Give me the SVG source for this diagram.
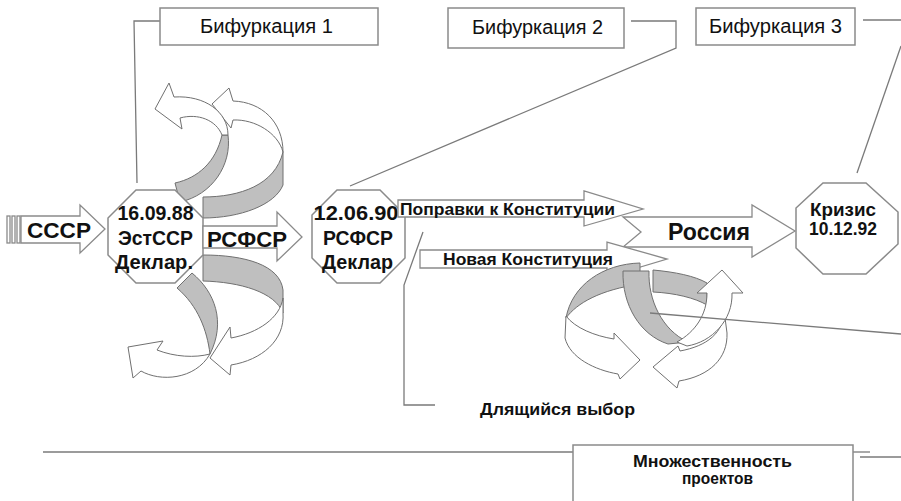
<svg xmlns="http://www.w3.org/2000/svg" width="901" height="501" viewBox="0 0 901 501">
<style>
.ln{fill:none;stroke:#7a7a7a;stroke-width:1.3}
.box{fill:#fff;stroke:#8a8a8a;stroke-width:1.5}
.oct{fill:#fff;stroke:#8a8a8a;stroke-width:1.5}
.arw{fill:#fff;stroke:#8a8a8a;stroke-width:1.3;stroke-linejoin:miter}
.gr{fill:#bfbfbf;stroke:#707070;stroke-width:1}
.wh{fill:#fff;stroke:#707070;stroke-width:1}
.t{font-family:"Liberation Sans",Arial,sans-serif;fill:#111}
.b{font-weight:bold}
</style>
<rect width="901" height="501" fill="#fff"/>

<g id="connectors">
<polyline class="ln" points="160,21 134,21 137,183"/>
<polyline class="ln" points="631,21 676,21 676,48 350,186"/>
<line class="ln" x1="863" y1="20" x2="901" y2="20"/>
<line class="ln" x1="901" y1="46" x2="857" y2="173"/>
<polyline class="ln" points="423,232 404,285 404,405 435,405"/>
<line class="ln" x1="43" y1="452" x2="573" y2="452"/>
<line class="ln" x1="853" y1="452" x2="870" y2="452"/>
<line class="ln" x1="860" y1="457" x2="901" y2="457"/>
</g>

<g id="bif1">
<rect class="box" x="160" y="8" width="218" height="37"/>
<text class="t" x="266.5" y="33" font-size="20" text-anchor="middle" textLength="133" lengthAdjust="spacingAndGlyphs">Бифуркация 1</text>
</g>
<g id="bif2">
<rect class="box" x="448" y="8" width="176" height="40"/>
<text class="t" x="537.5" y="34" font-size="20" text-anchor="middle" textLength="131" lengthAdjust="spacingAndGlyphs">Бифуркация 2</text>
</g>
<g id="bif3">
<rect class="box" x="696" y="8" width="159" height="37"/>
<text class="t" x="775.5" y="33" font-size="20" text-anchor="middle" textLength="133" lengthAdjust="spacingAndGlyphs">Бифуркация 3</text>
</g>

<g id="top-loop">
<path class="gr" d="M203,197 C240,197 275,185 283,152 L283,185 C275,205 240,218 203,218 Z"/>
<path class="wh" d="M283,152 C283,122 262,102 233,101 L229,88 L212,104 L231,128 L233,120 C255,119 278,133 283,152 Z"/>
<path class="gr" d="M175,183 C198,178 216,162 222,135 L228,135 C232,165 212,195 180,202 Z"/>
<path class="wh" d="M228,135 C228,112 205,95 174,97 L169,83 L155,109 L182,129 L180,118 C198,113 216,120 222,135 Z"/>
</g>

<g id="bottom-loop">
<path class="gr" d="M203,255 C245,255 280,265 283,290 L283,313 C275,292 240,282 203,281 Z"/>
<path class="wh" d="M283,298 C280,318 258,333 231,338 L230,327 L210,358 L230,375 L231,365 C262,360 285,340 283,313 Z"/>
<path class="gr" d="M177,288 L192,273 C215,292 226,322 210,354 C207,330 198,306 177,288 Z"/>
<path class="wh" d="M210,354 C195,358 175,357 157,350 L163,341 L128,347 L133,378 L141,371 C160,382 195,380 210,354 Z"/>
</g>

<g id="sssr">
<rect class="arw" x="7" y="216" width="3" height="27"/>
<rect class="arw" x="12" y="216" width="3" height="27"/>
<rect class="arw" x="17" y="216" width="3" height="27"/>
<path class="arw" d="M21,216 H80 V205 L105,229 L80,253 V243 H21 Z"/>
<text class="t b" x="27" y="238" font-size="22" textLength="64" lengthAdjust="spacingAndGlyphs">СССР</text>
</g>

<g id="oct1">
<polygon class="oct" points="136,190 175,190 203,218 203,255 175,283 136,283 108,255 108,218"/>
<text class="t b" x="155.5" y="220" font-size="20" text-anchor="middle" textLength="76" lengthAdjust="spacingAndGlyphs">16.09.88</text>
<text class="t b" x="155.5" y="245" font-size="20" text-anchor="middle" textLength="75" lengthAdjust="spacingAndGlyphs">ЭстССР</text>
<text class="t b" x="154" y="269" font-size="20" text-anchor="middle" textLength="78" lengthAdjust="spacingAndGlyphs">Деклар.</text>
</g>

<g id="rsfsr">
<path class="arw" d="M203,226 H277 V212 L302,237 L277,261 V248 H203 Z"/>
<text class="t b" x="207" y="247" font-size="22" textLength="80" lengthAdjust="spacingAndGlyphs">РСФСР</text>
</g>

<g id="oct2">
<polygon class="oct" points="337,190 380,190 405,215 405,258 380,283 337,283 312,258 312,215"/>
<text class="t b" x="356" y="220" font-size="20" text-anchor="middle" textLength="85" lengthAdjust="spacingAndGlyphs">12.06.90</text>
<text class="t b" x="358" y="245" font-size="20" text-anchor="middle" textLength="70" lengthAdjust="spacingAndGlyphs">РСФСР</text>
<text class="t b" x="357.5" y="269" font-size="20" text-anchor="middle" textLength="71" lengthAdjust="spacingAndGlyphs">Деклар</text>
</g>

<g id="rossiya">
<path class="arw" d="M623,217 H752 V205 L795,231 L752,257 V247 H623 L641,232 Z"/>
<text class="t b" x="668" y="240" font-size="23" textLength="82" lengthAdjust="spacingAndGlyphs">Россия</text>
</g>

<g id="popravki">
<path class="arw" d="M398,200 H584 V191 L643,209 L584,226 V217 H398 Z"/>
<text class="t b" x="400" y="215" font-size="17" textLength="215" lengthAdjust="spacingAndGlyphs">Поправки к Конституции</text>
</g>

<g id="novaya">
<path class="arw" d="M420,250 H607 V242 L667,259 L607,277 V268 H420 Z"/>
<text class="t b" x="443" y="265" font-size="17" textLength="170" lengthAdjust="spacingAndGlyphs">Новая Конституция</text>
</g>

<g id="krizis">
<polygon class="oct" points="823,183 866,183 898,212 898,244 866,274 823,274 796,248 796,208"/>
<text class="t b" x="843" y="216" font-size="17.5" text-anchor="middle" textLength="66" lengthAdjust="spacingAndGlyphs">Кризис</text>
<text class="t b" x="843" y="235" font-size="17.5" text-anchor="middle" textLength="68" lengthAdjust="spacingAndGlyphs">10.12.92</text>
</g>

<g id="ring">
<path class="gr" d="M640,263 C603,264 572,285 566,318 C577,303 600,290 640,284 Z"/>
<path class="gr" d="M653,270 C675,272 695,276 707,283 L707,305 C695,298 675,293 653,292 Z"/>
<path class="wh" d="M566,316 C575,328 595,336 614,339 L614,333 L640,360 L620,379 L618,374 C595,370 570,358 565,338 Z"/>
<path class="wh" d="M724,310 C724,333 707,346 680,351 L678,346 L653,367 L677,388 L679,381 C710,376 728,358 727,333 Z"/>
<path class="gr" d="M623,271 L649,271 C648,300 662,330 688,342 L668,344 C640,335 622,305 623,271 Z"/>
<path class="wh" d="M677,342 C695,332 707,315 707,293 L697,293 L722,270 L743,293 L732,293 C733,320 712,342 687,346 Z"/>
<line class="ln" x1="650" y1="313" x2="901" y2="334"/>
</g>

<g id="vybor">
<text class="t b" x="480" y="415" font-size="16" textLength="155" lengthAdjust="spacingAndGlyphs">Длящийся выбор</text>
</g>

<g id="mnozh">
<rect class="box" x="573" y="445" width="280" height="60"/>
<text class="t b" x="712.5" y="467" font-size="16" text-anchor="middle" textLength="159" lengthAdjust="spacingAndGlyphs">Множественность</text>
<text class="t b" x="717.5" y="484" font-size="16" text-anchor="middle" textLength="71" lengthAdjust="spacingAndGlyphs">проектов</text>
</g>
</svg>
